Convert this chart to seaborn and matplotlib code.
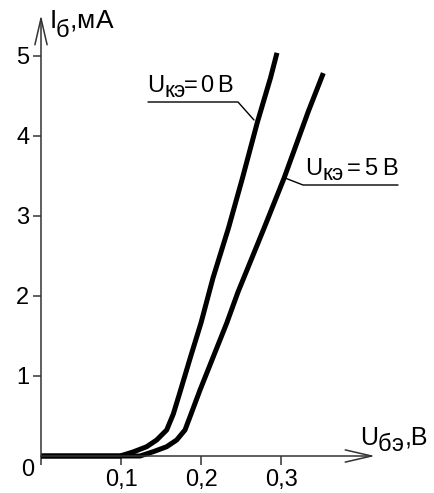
import numpy as np
import pandas as pd
import matplotlib
matplotlib.use("Agg")
import matplotlib.pyplot as plt
import seaborn as sns
from matplotlib.lines import Line2D

# ---- data (U in V, I in mA) ----
u0_x = [0.0, 0.0988, 0.115, 0.1321, 0.1446, 0.1571, 0.1654, 0.1738, 0.1869,
        0.200, 0.215, 0.2344, 0.2519, 0.2706, 0.2869, 0.295]
u0_y = [0.0, 0.0, 0.05, 0.116, 0.20, 0.325, 0.525, 0.80, 1.2375,
        1.6625, 2.225, 2.85, 3.475, 4.175, 4.725, 5.0375]
u5_x = [0.0, 0.1238, 0.1404, 0.1571, 0.1696, 0.180, 0.1863, 0.1988, 0.2154,
        0.2321, 0.2463, 0.2788, 0.3038, 0.3341, 0.3529]
u5_y = [0.0, 0.0, 0.054, 0.116, 0.20, 0.325, 0.491, 0.825, 1.241,
        1.659, 2.05, 2.846, 3.471, 4.304, 4.784]
series_names = ["Uкэ=0В", "Uкэ=5В"]
x_ticks = [0.0, 0.1, 0.2, 0.3]
x_tick_labels = ["", "0,1", "0,2", "0,3"]
y_ticks = [1, 2, 3, 4, 5]
y_tick_labels = ["1", "2", "3", "4", "5"]

df = pd.concat([
    pd.DataFrame({"U": u0_x, "I": u0_y, "s": series_names[0]}),
    pd.DataFrame({"U": u5_x, "I": u5_y, "s": series_names[1]}),
])

sns.set_style("white")
plt.rcParams["font.family"] = ["Liberation Sans", "DejaVu Sans"]

W, H = 434, 493
fig = plt.figure(figsize=(W / 100, H / 100), dpi=100)
ax = fig.add_axes([41 / W, 37 / H, 334 / W, 441 / H])

sns.lineplot(data=df, x="U", y="I", hue="s", palette=["black", "black"],
             legend=False, linewidth=3.6, sort=False, estimator=None, ax=ax)
for ln in ax.lines:
    ln.set_solid_capstyle("butt")
    ln.set_solid_joinstyle("round")
    ln.set_clip_on(False)

ax.set_xlim(0, 0.4175)
ax.set_ylim(0, 5.51)
for sp in ax.spines.values():
    sp.set_visible(False)
ax.set_xlabel("")
ax.set_ylabel("")

axc = "#333333"
arrow_kw = dict(arrowstyle="->,head_length=0.95,head_width=0.22", lw=1.1,
                color=axc, shrinkA=0, shrinkB=0, mutation_scale=20)
ax.annotate("", xy=(1, 0), xytext=(0, 0), xycoords="axes fraction",
            arrowprops=arrow_kw, annotation_clip=False)
ax.annotate("", xy=(0, 1), xytext=(0, 0), xycoords="axes fraction",
            arrowprops=arrow_kw, annotation_clip=False)

ax.set_xticks(x_ticks)
ax.set_xticklabels(x_tick_labels)
ax.set_yticks(y_ticks)
ax.set_yticklabels(y_tick_labels)
ax.tick_params(axis="x", direction="out", length=6.5, width=1.1, color=axc,
               labelsize=17, pad=3, labelcolor="black")
ax.tick_params(axis="y", direction="out", length=5.8, width=1.1, color=axc,
               labelsize=17, pad=2.5, labelcolor="black")
ax.tick_params(bottom=True, left=True)


def glyphs(items, size):
    # items: (center_x_px, baseline_y_px, text, size_delta)
    for cx, by, s, d in items:
        fig.text(cx / W, 1 - by / H, s, ha="center", va="baseline",
                 fontsize=size + d, color="black")


def pline(xs, ys):
    fig.add_artist(Line2D([x / W for x in xs], [1 - y / H for y in ys],
                          color="black", lw=1.0, transform=fig.transFigure))


# origin label
fig.text(34 / W, 1 - 476 / H, "0", ha="right", va="baseline", fontsize=17,
         color="black")

# axis labels
glyphs([(53.5, 28, "I", 0), (62.5, 37, "б", -2), (73.5, 28, ",", 0),
        (85, 28, "м", 0), (105, 28, "А", 0)], 19)
glyphs([(369, 445, "U", 0), (384, 451, "б", -1), (397.5, 451, "э", -1)], 18)
fig.text(405 / W, 1 - 445 / H, ",В", ha="left", va="baseline", fontsize=18,
         color="black")

# curve labels
glyphs([(156, 92, "U", 0), (169, 97, "к", -1), (179, 97, "э", -1),
        (191, 92, "=", 0), (206.5, 92, "0", 0), (224.5, 92, "В", 0)], 17)
pline([148, 238, 254], [102, 102, 120])

glyphs([(313.5, 175, "U", 0), (327, 180, "к", -1), (337.5, 180, "э", -1),
        (354, 175, "=", 0), (371, 175, "5", 0), (389.5, 175, "В", 0)], 17)
pline([398, 303, 285], [185, 185, 178])

fig.savefig("out.png", dpi=100)
